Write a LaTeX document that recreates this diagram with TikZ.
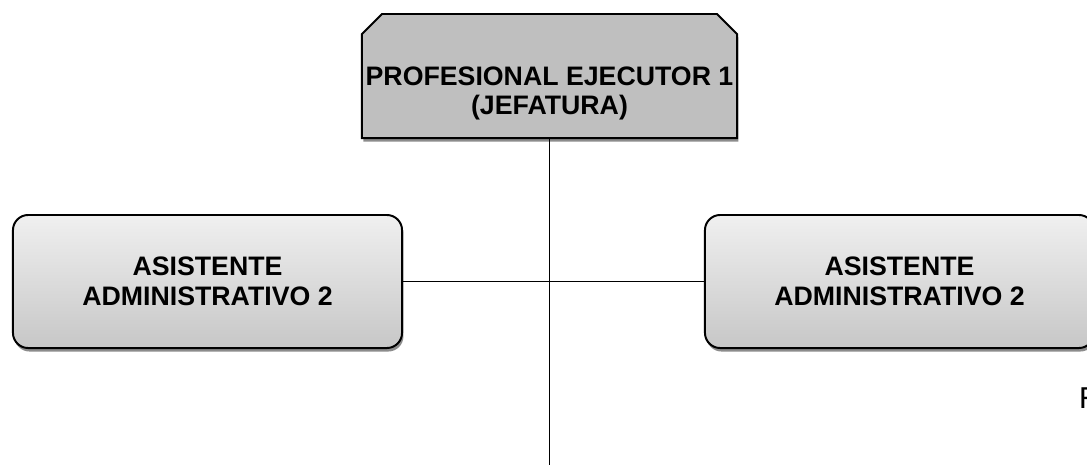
\documentclass[tikz,border=0pt]{standalone}
\usepackage{fontspec}
\setmainfont{Liberation Sans}
\newfontfamily\calfont{Carlito}
\usetikzlibrary{shapes.misc,shadows}

\begin{document}
\begin{tikzpicture}[x=0.025cm, y=-0.025cm,
    caja/.style={draw, line width=1.4pt, align=center, inner sep=0pt,
      drop shadow={shadow xshift=1pt, shadow yshift=-2.5pt, fill=black!45, opacity=1}},
    jefe/.style={caja, chamfered rectangle, chamfered rectangle corners={north west, north east},
      chamfered rectangle xsep=0.25cm, chamfered rectangle ysep=0.25cm,
      font=\fontsize{19}{20.5}\selectfont\bfseries,
      minimum width=9.375cm, minimum height=3.1cm, fill=black!25},
    asist/.style={caja, rectangle, rounded corners=0.38cm,
      font=\fontsize{19}{21.3}\selectfont\bfseries,
      minimum width=9.725cm, minimum height=3.325cm, top color=black!6, bottom color=black!22},
    linea/.style={line width=1.3pt}]
\useasboundingbox (0,0) rectangle (1087,470);

\node[jefe] (jef) at (549.5,76) {\makebox[7.5cm]{\rule{0pt}{1.35cm}PROFESIONAL EJECUTOR 1}\\(JEFATURA)};
\node[asist] (izq) at (207.5,281.5) {ASISTENTE\\ADMINISTRATIVO 2};
\node[asist] (der) at (899.5,281.5) {ASISTENTE\\ADMINISTRATIVO 2};
\coordinate (fin) at (jef.south |- 0,465);

\draw[linea] (jef.south) -- (fin);
\draw[linea] (izq.east) -- (der.west);

\node[anchor=base west, inner sep=0pt, font=\calfont\fontsize{23}{26}\selectfont] (pie) at (1079,408) {F};
\end{tikzpicture}
\end{document}
